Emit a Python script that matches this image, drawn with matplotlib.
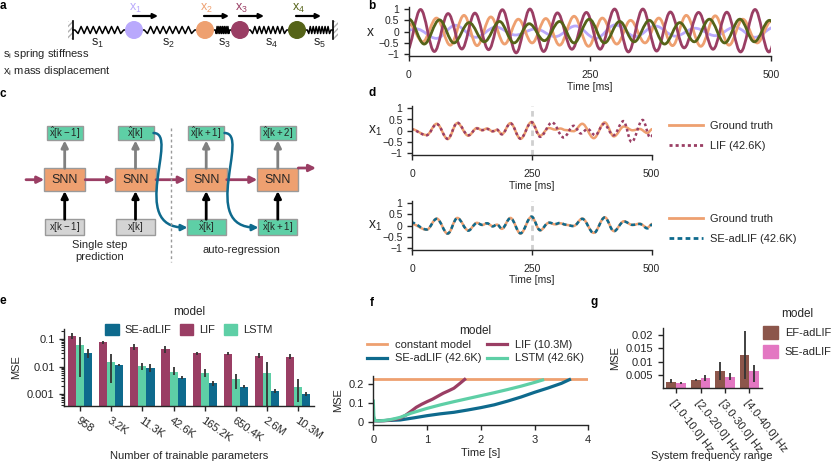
import numpy as np
import matplotlib
matplotlib.use('Agg')
import matplotlib.pyplot as plt
from matplotlib.path import Path
from matplotlib.patches import PathPatch, Rectangle, Circle, FancyArrowPatch, Patch
from matplotlib.lines import Line2D
from matplotlib.ticker import FuncFormatter, LogLocator, NullFormatter, FixedLocator

plt.rcParams['font.family'] = ['Liberation Sans', 'DejaVu Sans']
plt.rcParams['font.size'] = 7.5
plt.rcParams['axes.linewidth'] = 1.0
plt.rcParams['axes.edgecolor'] = '#262626'
plt.rcParams['xtick.color'] = '#262626'
plt.rcParams['ytick.color'] = '#262626'
plt.rcParams['text.color'] = '#262626'
plt.rcParams['axes.labelcolor'] = '#262626'

# colours
LAV = '#b9a9fc'
ORG = '#eea070'
MAR = '#9a3e64'
OLV = '#556318'
TEAL = '#0e6a8d'
MINT = '#5ecfa6'
BROWN = '#8c564b'
PINK = '#e377c2'
GREY_BOX = '#d4d4d4'

# ---- panel b: extrema of the mass displacements (time in ms, value)
b_x1_t = [-17, 10, 38, 64, 92, 120, 147, 175, 202, 230, 258, 285, 313, 340, 368, 395, 423, 450, 478, 505]
b_x1_v = [-0.1, 0.12, -0.3, 0.28, -0.25, 0.2, -0.15, 0.12, -0.22, 0.25, -0.3, 0.3, -0.22, 0.25, -0.2, 0.15, -0.18, 0.2, -0.25, 0.2]
b_x2_t = [-19, 0, 19, 38, 57, 76, 94, 113, 132, 151, 170, 189, 208, 228, 248, 267, 287, 306, 326, 345, 364, 383, 403, 423, 442, 461, 481, 500, 519]
b_x2_v = [-0.4, 0.35, -0.45, 0.6, -0.6, 0.72, -0.62, 0.65, -0.55, 0.55, -0.5, 0.58, -0.6, 0.68, -0.65, 0.6, -0.55, 0.5, -0.5, 0.6, -0.62, 0.72, -0.65, 0.7, -0.6, 0.55, -0.5, 0.45, -0.5]
b_x3_t = [-3, 16, 35, 54, 73, 91, 110, 129, 148, 167, 186, 205, 225, 245, 264, 284, 303, 323, 342, 361, 380, 400, 420, 439, 458, 478, 497, 516]
b_x3_v = [-0.85, 0.98, -0.88, 0.8, -0.77, 0.82, -0.8, 0.97, -0.94, 1.0, -0.88, 0.83, -0.78, 0.85, -0.78, 1.0, -0.9, 1.0, -0.86, 0.87, -0.72, 0.85, -0.78, 0.86, -0.9, 0.98, -0.9, 0.9]
b_x4_t = [-21, 0, 21, 42, 62, 83, 104, 125, 145, 166, 187, 208, 228, 249, 270, 291, 311, 332, 353, 374, 394, 415, 436, 457, 477, 498, 519]
b_x4_v = [-0.5, 0.55, -0.55, 0.52, -0.5, 0.4, -0.45, 0.45, -0.5, 0.35, -0.4, 0.45, -0.5, 0.55, -0.5, 0.45, -0.45, 0.5, -0.55, 0.4, -0.45, 0.55, -0.5, 0.55, -0.45, 0.5, -0.5]

# ---- panel d: x1 ground truth and predictions (extrema, ms)
d_gt_t = [-3, 30, 51, 74, 94, 117, 135, 146, 156, 168, 177, 187, 205, 226, 249, 267, 285, 299, 309, 320, 337, 355, 379, 402, 421, 442, 460, 475, 491, 501, 512]
d_gt_v = [0.08, -0.19, 0.31, -0.37, 0.34, -0.22, 0.12, 0.02, 0.1, -0.03, 0.04, -0.15, 0.34, -0.36, 0.39, -0.22, 0.12, 0.05, 0.1, 0.03, -0.02, 0.31, -0.33, 0.37, -0.25, 0.19, 0.02, 0.08, -0.1, 0.07, 0.12]
d_lif_t = [-3, 30, 51, 74, 94, 117, 135, 146, 156, 168, 177, 187, 205, 226, 249, 267, 292, 316, 337, 352, 366, 382, 400, 420, 441, 458, 481, 497, 512]
d_lif_v = [0.06, -0.2, 0.3, -0.36, 0.36, -0.2, 0.1, 0.03, 0.08, -0.02, 0.05, -0.16, 0.33, -0.35, 0.38, -0.27, 0.37, -0.3, 0.22, -0.12, 0.08, -0.2, 0.3, -0.2, 0.43, -0.5, 0.48, -0.3, 0.2]
d_se_t = [-3, 30, 51, 74, 94, 117, 135, 146, 156, 168, 177, 187, 205, 226, 249, 267, 285, 299, 309, 320, 337, 355, 379, 402, 421, 442, 460, 475, 491, 501, 512]
d_se_v = [0.14, -0.18, 0.3, -0.36, 0.33, -0.23, 0.11, 0.03, 0.1, -0.04, 0.05, -0.14, 0.33, -0.35, 0.4, -0.21, 0.13, 0.07, 0.12, 0.04, -0.03, 0.3, -0.34, 0.36, -0.26, 0.18, 0.03, 0.07, -0.13, 0.04, 0.1]

# ---- panel e: MSE vs number of parameters
e_params = ['958', '3.2K', '11.3K', '42.6K', '165.2K', '650.4K', '2.6M', '10.3M']
e_lif = [0.128, 0.076, 0.053, 0.042, 0.030, 0.029, 0.025, 0.023]
e_lif_lo = [0.10, 0.066, 0.040, 0.030, 0.026, 0.026, 0.020, 0.019]
e_lif_hi = [0.17, 0.087, 0.066, 0.057, 0.035, 0.033, 0.030, 0.028]
e_lstm = [0.060, 0.015, 0.0107, 0.0061, 0.0057, 0.0034, 0.0057, 0.0018]
e_lstm_lo = [0.0043, 0.0026, 0.0075, 0.0049, 0.0043, 0.0015, 0.0003, 0.0005]
e_lstm_hi = [0.12, 0.028, 0.0138, 0.0093, 0.0079, 0.0056, 0.015, 0.0034]
e_se = [0.030, 0.0113, 0.0086, 0.0039, 0.0025, 0.0018, 0.0013, 0.0010]
e_se_lo = [0.021, 0.0105, 0.0061, 0.0035, 0.0020, 0.0016, 0.0011, 0.00085]
e_se_hi = [0.042, 0.012, 0.012, 0.0044, 0.0030, 0.0021, 0.0015, 0.0012]

# ---- panel f: autoregressive MSE over time
f_const_t = [0, 4.0]
f_const_v = [0.229, 0.229]
f_lif_t = [0, 0.1, 0.2, 0.3, 0.4, 0.5, 0.6, 0.7, 0.8, 0.9, 1.0, 1.1, 1.2, 1.3, 1.4, 1.5, 1.6, 1.7]
f_lif_v = [0.005, 0.004, 0.005, 0.008, 0.013, 0.018, 0.034, 0.055, 0.077, 0.093, 0.107, 0.12, 0.136, 0.152, 0.165, 0.179, 0.202, 0.226]
f_lstm_t = [0, 0.01, 0.03, 0.1, 0.2, 0.3, 0.4, 0.5, 0.7, 1.0, 1.25, 1.5, 1.75, 2.0, 2.25, 2.5, 2.75, 3.0, 3.15]
f_lstm_v = [0.11, 0.03, 0.006, 0.004, 0.006, 0.01, 0.016, 0.023, 0.045, 0.071, 0.09, 0.107, 0.123, 0.139, 0.155, 0.172, 0.19, 0.21, 0.223]
f_se_t = [0, 0.25, 0.5, 0.75, 1.0, 1.25, 1.5, 1.75, 2.0, 2.25, 2.5, 2.75, 3.0, 3.25, 3.5, 3.65]
f_se_v = [0.005, 0.006, 0.009, 0.02, 0.032, 0.042, 0.05, 0.062, 0.075, 0.09, 0.11, 0.132, 0.157, 0.18, 0.205, 0.225]

# ---- panel g: MSE per system frequency range
g_ranges = ['[1.0-10.0] Hz', '[2.0-20.0] Hz', '[3.0-30.0] Hz', '[4.0-40.0] Hz']
g_ef = [0.0024, 0.0030, 0.0066, 0.0123]
g_ef_lo = [0.0019, 0.0027, 0.0031, 0.0035]
g_ef_hi = [0.0033, 0.0035, 0.0098, 0.0215]
g_se = [0.0019, 0.0037, 0.0041, 0.0064]
g_se_lo = [0.0015, 0.0029, 0.0031, 0.0025]
g_se_hi = [0.0024, 0.0050, 0.0056, 0.0087]

W, H = 831, 469
fig = plt.figure(figsize=(W / 100, H / 100), dpi=100)


def px_axes(l, t, r, b):
    return fig.add_axes([l / W, 1 - b / H, (r - l) / W, (b - t) / H])


def to_fig(x, y):
    return (x / W, 1 - y / H)


def style(ax):
    for s in ['top', 'right']:
        ax.spines[s].set_visible(False)
    ax.tick_params(direction='out', length=3.5, width=1.0)


def wave(ax, t, v, color, lw, ls='-', k=0.36):
    # smooth curve through the read extrema (bezier between neighbours)
    verts = [(t[0], v[0])]
    codes = [Path.MOVETO]
    for i in range(len(t) - 1):
        dt = t[i + 1] - t[i]
        verts += [(t[i] + k * dt, v[i]), (t[i + 1] - k * dt, v[i + 1]), (t[i + 1], v[i + 1])]
        codes += [Path.CURVE4] * 3
    ax.add_patch(PathPatch(Path(verts, codes), fill=False, ec=color, lw=lw, ls=ls,
                           capstyle='butt', joinstyle='round'))


minus_fmt = FuncFormatter(lambda v, p: f'{v:g}'.replace('-', '\u2212'))

bg = fig.add_axes([0, 0, 1, 1])
bg.set_xlim(0, W)
bg.set_ylim(H, 0)
bg.axis('off')

# panel letters
for letter, (lx, ly) in zip('abcdefg', [(3, 6), (372, 6), (3, 94), (372, 93), (3, 301), (372, 303), (594, 302)]):
    bg.text(lx, ly, letter, fontsize=8.5, fontweight='bold', ha='center', va='center', color='black')

# ---------------- panel a: spring chain
mass_x = [134, 205, 240, 297]
mass_col = [LAV, ORG, MAR, OLV]
wall_x = [73, 333]
mass_y, mass_r = 30, 8.3
ends = [wall_x[0]] + mass_x + [wall_x[1]]
for i in range(5):
    x0 = ends[i] + (mass_r if i > 0 else 0)
    x1 = ends[i + 1] - (mass_r if i < 4 else 0)
    n = 8
    xs = np.linspace(x0 + 2, x1 - 2, 2 * n + 1)
    ys = mass_y + 3.5 * np.array([0] + [(-1) ** j for j in range(2 * n - 1)] + [0])
    bg.plot(np.r_[x0, xs, x1], np.r_[mass_y, ys, mass_y], color='black', lw=1.1)
for wx, side in zip(wall_x, [-1, 1]):
    bg.add_patch(Rectangle((wx if side > 0 else wx - 5, 21), 5, 18, fill=False, ec='#b0b0b0',
                           lw=0, hatch='//////'))
    bg.plot([wx, wx], [21, 39], color='black', lw=1.2)
for mx, mc, lab in zip(mass_x, mass_col, ['1', '2', '3', '4']):
    bg.add_patch(Circle((mx, mass_y), mass_r, color=mc, zorder=3))
    bg.text(mx + 1, 8, r'$\mathregular{x_%s}$' % lab, color=mc, fontsize=9, ha='center', va='center')
    bg.annotate('', xy=(mx + 24, 16), xytext=(mx - 1, 16),
                arrowprops=dict(arrowstyle='-|>', color='black', lw=1.6, mutation_scale=7,
                                shrinkA=0, shrinkB=0))
for sx, lab in zip([97, 168, 224, 271, 319], ['1', '2', '3', '4', '5']):
    bg.text(sx, 43, r'$\mathregular{s_%s}$' % lab, fontsize=9, ha='center', va='center')
bg.text(3, 54, r'$\mathregular{s_i}$ spring stiffness', fontsize=8, ha='left', va='center')
bg.text(3, 71, r'$\mathregular{x_i}$ mass displacement', fontsize=8, ha='left', va='center')

# ---------------- panel c: diagram
snn_x = [64.7, 135.5, 206.2, 277.8]
snn_y = 179.7
XH = r'$\hat{\mathregular{x}}\mathregular{%s}$'
top_lab = [XH % '[k-1]', XH % '[k]', XH % '[k+1]', XH % '[k+2]']
bot_lab = [r'$\mathregular{x[k-1]}$', r'$\mathregular{x[k]}$', XH % '[k]', XH % '[k+1]']
bot_col = [GREY_BOX, GREY_BOX, MINT, MINT]


def arrow(p0, p1, color, lw=2.0, ms=10, path=None):
    if path is None:
        a = FancyArrowPatch(p0, p1, arrowstyle='-|>', color=color, lw=lw, mutation_scale=ms,
                            shrinkA=0, shrinkB=0)
    else:
        a = FancyArrowPatch(path=path, arrowstyle='-|>', color=color, lw=lw, mutation_scale=ms)
    bg.add_patch(a)


for i, cx in enumerate(snn_x):
    bg.add_patch(Rectangle((cx - 20.5, snn_y - 11.4), 41, 22.8, fc=ORG, ec='#9a9a9a', lw=1))
    bg.text(cx, snn_y, 'SNN', fontsize=9, ha='center', va='center')
    bg.add_patch(Rectangle((cx - 18, 125.7), 36, 14.3, fc=MINT, ec='#9a9a9a', lw=1))
    bg.text(cx, 133, top_lab[i], fontsize=7, ha='center', va='center')
    bg.add_patch(Rectangle((cx - 19.5, 219.3), 39, 15.7, fc=bot_col[i], ec='#9a9a9a', lw=1))
    bg.text(cx, 227, bot_lab[i], fontsize=7, ha='center', va='center')
    arrow((cx, snn_y - 11.4), (cx, 140.5), '#808080')
    arrow((cx, 219.3), (cx, snn_y + 11.4), 'black')
for x0, x1 in [(26, 44.2), (85.2, 115), (156, 185.7), (226.7, 257.3)]:
    arrow((x0, snn_y), (x1, snn_y), MAR)
arrow((298.3, 168), (316, 168), MAR)
for dx in [0, 71]:
    p = Path([(153.5 + dx, 133), (180 + dx, 133), (127 + dx, 228), (187.5 + dx, 227.5)],
             [Path.MOVETO, Path.CURVE4, Path.CURVE4, Path.CURVE4])
    arrow(None, None, TEAL, lw=1.8, ms=9, path=p)
bg.plot([171, 171], [128, 262], color='#9a9a9a', lw=1, ls=(0, (2, 2)))
bg.text(100, 251, 'Single step\nprediction', fontsize=8, ha='center', va='center', linespacing=1.2)
bg.text(241, 250, 'auto-regression', fontsize=8, ha='center', va='center')

# ---------------- panel b
ax_b = px_axes(409, 6.75, 771, 56.5)
style(ax_b)
for t, v, c in [(b_x1_t, b_x1_v, LAV), (b_x2_t, b_x2_v, ORG), (b_x3_t, b_x3_v, MAR), (b_x4_t, b_x4_v, OLV)]:
    wave(ax_b, t, v, c, 2.0)
ax_b.set_xlim(0, 500)
ax_b.set_ylim(-1.1, 1.1)
ax_b.set_xticks([0, 250, 500])
ax_b.set_yticks([-1, -0.5, 0, 0.5, 1])
ax_b.yaxis.set_major_formatter(minus_fmt)
ax_b.tick_params(axis='x', pad=6.5)
ax_b.set_xlabel('Time [ms]', labelpad=1)
ax_b.set_ylabel('x', rotation=0, fontsize=10, ha='center', va='center')
ax_b.yaxis.set_label_coords(-0.108, 0.5)

# ---------------- panel d
d_boxes = [(106, 155.5, 136), (201, 250, 229)]
d_preds = [(d_lif_t, d_lif_v, MAR, (0, (1.1, 1.1)), 'LIF (42.6K)'),
           (d_se_t, d_se_v, TEAL, (0, (1.7, 1.2)), 'SE-adLIF (42.6K)')]
for (top, bot, leg_y), (pt, pv, pc, pls, plab) in zip(d_boxes, d_preds):
    ax = px_axes(412.3, top, 651.7, bot)
    style(ax)
    ax.axvline(250, color='#cfcfcf', lw=2, ls=(0, (2, 1.5)), zorder=0)
    wave(ax, d_gt_t, d_gt_v, ORG, 1.8)
    wave(ax, pt, pv, pc, 1.8, ls=pls)
    ax.set_xlim(0, 500)
    ax.set_ylim(-1.1, 1.1)
    ax.set_xticks([0, 250, 500])
    ax.set_yticks([-1, -0.5, 0, 0.5, 1])
    ax.yaxis.set_major_formatter(minus_fmt)
    ax.tick_params(axis='x', pad=6.5)
    ax.set_xlabel('Time [ms]', labelpad=1)
    ax.set_ylabel(r'$\mathregular{x_1}$', rotation=0, fontsize=10, ha='center', va='center')
    ax.yaxis.set_label_coords(-0.156, 0.5)
    handles = [Line2D([], [], color=ORG, lw=2), Line2D([], [], color=pc, lw=2, ls=pls)]
    ax.legend(handles, ['Ground truth', plab], loc='center left', frameon=False, fontsize=8,
              bbox_to_anchor=to_fig(663, leg_y), bbox_transform=fig.transFigure,
              borderpad=0, handlelength=3.1, handletextpad=0.65, labelspacing=0.85)

# ---------------- panel e
ax_e = px_axes(64.4, 329.3, 313.9, 405.7)
style(ax_e)
ax_e.set_yscale('log')
xe = np.arange(len(e_params))
bw = 0.26
for off, vals, lo, hi, col in [(-bw, e_lif, e_lif_lo, e_lif_hi, MAR),
                               (0, e_lstm, e_lstm_lo, e_lstm_hi, MINT),
                               (bw, e_se, e_se_lo, e_se_hi, TEAL)]:
    vals, lo, hi = np.array(vals), np.array(lo), np.array(hi)
    ax_e.bar(xe + off, vals, width=bw, color=col, edgecolor='none')
    ax_e.errorbar(xe + off, vals, yerr=[vals - lo, hi - vals], fmt='none', ecolor='#333333',
                  elinewidth=1.3, capsize=0)
ax_e.set_ylim(0.00038, 0.225)
ax_e.set_xlim(-0.5, 7.5)
ax_e.yaxis.set_major_locator(FixedLocator([0.001, 0.01, 0.1]))
ax_e.yaxis.set_major_formatter(FuncFormatter(lambda v, p: f'{v:g}'))
ax_e.yaxis.set_minor_locator(LogLocator(base=10, subs=np.arange(2, 10)))
ax_e.yaxis.set_minor_formatter(NullFormatter())
ax_e.tick_params(axis='y', which='minor', length=2, width=0.8)
ax_e.tick_params(axis='y', labelsize=8)
ax_e.set_xticks(xe)
ax_e.set_xticklabels(e_params, rotation=-35, ha='left', rotation_mode='anchor', fontsize=8)
ax_e.set_ylabel('MSE', fontsize=8)
ax_e.set_xlabel('Number of trainable parameters', fontsize=8)
ax_e.xaxis.set_label_coords(0.5, -0.66)
ax_e.xaxis.label.set_va('center')
e_handles = [Patch(color=TEAL), Patch(color=MAR), Patch(color=MINT)]
leg = ax_e.legend(e_handles, ['SE-adLIF', 'LIF', 'LSTM'], title='model', ncol=3, frameon=False,
                  loc='lower center', bbox_to_anchor=to_fig(189, 341), bbox_transform=fig.transFigure,
                  fontsize=8, title_fontsize=8.5, borderpad=0, handlelength=1.2, handleheight=1.2,
                  handletextpad=0.55, columnspacing=0.75)

# ---------------- panel f
ax_f = px_axes(373.3, 375.7, 588.3, 425)
style(ax_f)
ax_f.plot(f_const_t, f_const_v, color=ORG, lw=2, label='constant model')
ax_f.plot(f_se_t, f_se_v, color=TEAL, lw=2.3, label='SE-adLIF (42.6K)')
ax_f.plot(f_lif_t, f_lif_v, color=MAR, lw=2.3, label='LIF (10.3M)')
ax_f.plot(f_lstm_t, f_lstm_v, color=MINT, lw=2.3, label='LSTM (42.6K)')
ax_f.set_xlim(0, 4)
ax_f.set_ylim(-0.018, 0.246)
ax_f.set_xticks([0, 1, 2, 3, 4])
ax_f.set_yticks([0, 0.1, 0.2])
ax_f.yaxis.set_major_formatter(FuncFormatter(lambda v, p: f'{v:g}'))
ax_f.tick_params(labelsize=8)
ax_f.set_xlabel('Time [s]', fontsize=8, labelpad=2)
ax_f.set_ylabel('MSE', fontsize=8)
h, l = ax_f.get_legend_handles_labels()
ax_f.legend(h, l, title='model', ncol=2, frameon=False,
            loc='lower center', bbox_to_anchor=to_fig(475.5, 369), bbox_transform=fig.transFigure,
            fontsize=8, title_fontsize=8.5, borderpad=0, handlelength=1.75, handletextpad=0.7,
            columnspacing=0.55, labelspacing=0.3)

# ---------------- panel g
ax_g = px_axes(662.7, 328, 761.7, 388.3)
style(ax_g)
xg = np.arange(len(g_ranges))
gw = 0.4
for off, vals, lo, hi, col in [(-gw / 2, g_ef, g_ef_lo, g_ef_hi, BROWN),
                               (gw / 2, g_se, g_se_lo, g_se_hi, PINK)]:
    vals, lo, hi = np.array(vals), np.array(lo), np.array(hi)
    ax_g.bar(xg + off, vals, width=gw, color=col, edgecolor='none')
    ax_g.errorbar(xg + off, vals, yerr=[vals - lo, hi - vals], fmt='none', ecolor='#333333',
                  elinewidth=1.3, capsize=0)
ax_g.set_xlim(-0.55, 3.5)
ax_g.set_ylim(0, 0.0226)
ax_g.set_yticks([0.005, 0.01, 0.015, 0.02])
ax_g.yaxis.set_major_formatter(FuncFormatter(lambda v, p: f'{v:g}'))
ax_g.tick_params(labelsize=8)
ax_g.set_xticks(xg)
ax_g.set_xticklabels(g_ranges, rotation=-52, ha='left', rotation_mode='anchor', fontsize=8)
ax_g.set_ylabel('MSE', fontsize=8)
ax_g.set_xlabel('System frequency range', fontsize=8)
ax_g.xaxis.set_label_coords(0.5, (388.3 - 456) / 60.3)
ax_g.xaxis.label.set_va('center')
ax_g.legend([Patch(color=BROWN), Patch(color=PINK)], ['EF-adLIF', 'SE-adLIF'], title='model',
            frameon=False, loc='upper left', bbox_to_anchor=to_fig(757, 302),
            bbox_transform=fig.transFigure, fontsize=8, title_fontsize=8.5, borderpad=0,
            handlelength=1.35, handleheight=1.35, handletextpad=0.65, labelspacing=0.6)

fig.savefig('out.png', dpi=100)
